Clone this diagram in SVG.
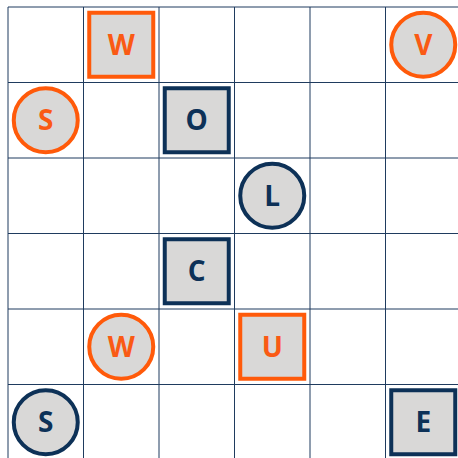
<svg xmlns="http://www.w3.org/2000/svg" width="458" height="458" viewBox="0 0 458 458">
<style>
.grid line{stroke:#1f3b5e;stroke-width:1}
.o{stroke:#ff5a0a;stroke-width:4;fill:#d9d8d7}
.n{stroke:#0d3157;stroke-width:4;fill:#d9d8d7}
.to{fill:#fa5a14;font-family:"Open Sans",sans-serif;font-weight:bold;font-size:28px;text-anchor:middle}
.tn{fill:#0d3157;font-family:"Open Sans",sans-serif;font-weight:bold;font-size:28px;text-anchor:middle}
</style>
<rect width="458" height="458" fill="#ffffff"/>
<g id="connectors" class="grid">
<line x1="8" y1="7" x2="8" y2="458"/>
<line x1="83.5" y1="7" x2="83.5" y2="458"/>
<line x1="159" y1="7" x2="159" y2="458"/>
<line x1="234.5" y1="7" x2="234.5" y2="458"/>
<line x1="310" y1="7" x2="310" y2="458"/>
<line x1="385.5" y1="7" x2="385.5" y2="458"/>
<line x1="8" y1="7" x2="458" y2="7"/>
<line x1="8" y1="82.5" x2="458" y2="82.5"/>
<line x1="8" y1="158" x2="458" y2="158"/>
<line x1="8" y1="233.5" x2="458" y2="233.5"/>
<line x1="8" y1="309" x2="458" y2="309"/>
<line x1="8" y1="384.5" x2="458" y2="384.5"/>
</g>
<g id="W1"><rect class="o" x="89.25" y="12.75" width="64" height="64"/><text class="to" x="121.25" y="54.8">W</text></g>
<g id="V"><circle class="o" cx="423.25" cy="44.75" r="32"/><text class="to" x="423.25" y="54.8">V</text></g>
<g id="S1"><circle class="o" cx="45.75" cy="120.25" r="32"/><text class="to" x="45.75" y="130.3">S</text></g>
<g id="O"><rect class="n" x="164.75" y="88.25" width="64" height="64"/><text class="tn" x="196.75" y="130.3">O</text></g>
<g id="L"><circle class="n" cx="272.25" cy="195.75" r="32"/><text class="tn" x="272.25" y="205.8">L</text></g>
<g id="C"><rect class="n" x="164.75" y="239.25" width="64" height="64"/><text class="tn" x="196.75" y="281.3">C</text></g>
<g id="W2"><circle class="o" cx="121.25" cy="346.75" r="32"/><text class="to" x="121.25" y="356.8">W</text></g>
<g id="U"><rect class="o" x="240.25" y="314.75" width="64" height="64"/><text class="to" x="272.25" y="356.8">U</text></g>
<g id="S2"><circle class="n" cx="45.75" cy="422.25" r="32"/><text class="tn" x="45.75" y="432.3">S</text></g>
<g id="E"><rect class="n" x="391.25" y="390.25" width="64" height="64"/><text class="tn" x="423.25" y="432.3">E</text></g>
</svg>
